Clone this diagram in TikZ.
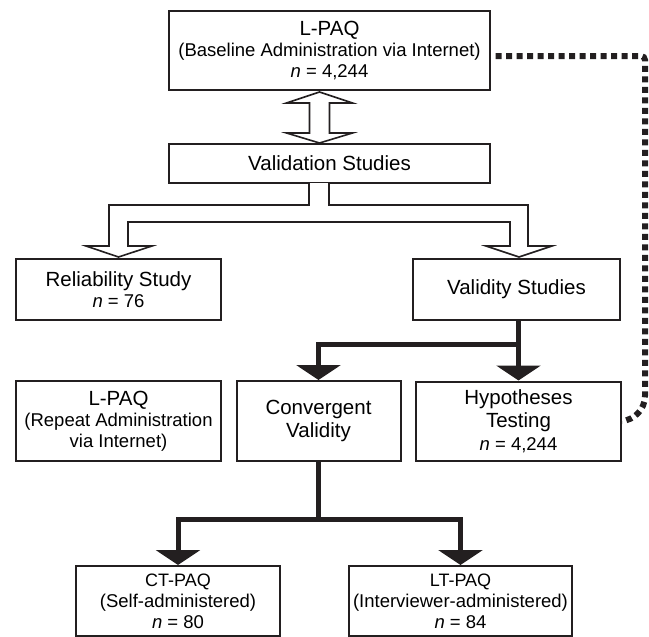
\documentclass[tikz,border=0pt]{standalone}
\usepackage{fontspec}
\setmainfont{Liberation Sans}
\usepackage{tikz}
\usetikzlibrary{arrows.meta,calc}
\definecolor{ink}{HTML}{231F20}
\newcommand{\ttlfont}{\fontsize{20.5}{23}\selectfont}
\newcommand{\subfont}{\fontsize{18.5}{21}\selectfont}
\tikzset{
  box/.style={draw=ink, line width=2pt, fill=white, inner sep=0pt, align=center, font=\subfont},
  hollow/.style={draw=ink, line width=1.6pt, fill=white, line join=miter},
  flow/.style={draw=ink, line width=5pt, line join=miter, -{Triangle[width=44pt,length=15pt]}},
  dots/.style={draw=ink, line width=6pt, dash pattern=on 6pt off 4.5pt, dash phase=6pt},
}

\begin{document}
\begin{tikzpicture}[x=1pt,y=-1pt]
  \useasboundingbox (0,0) rectangle (649,637);

  \node[box, minimum width=321pt, minimum height=79pt] (base) at (329.5,50.5)
    {{\ttlfont L-PAQ}\\(Baseline Administration via Internet)\\\textit{n} = 4,244};
  \node[box, font=\ttlfont, minimum width=321pt, minimum height=39pt] (valid) at (329.5,163.5)
    {Validation Studies};

  \node[box, minimum width=205pt, minimum height=61pt] (rel) at (118.5,289.5)
    {{\ttlfont Reliability Study}\\\textit{n} = 76};
  \node[box, font=\ttlfont, minimum width=207pt, minimum height=61pt] (vals) at (516.5,289.5)
    {Validity Studies};

  \node[box, minimum width=205pt, minimum height=80pt] (rep) at (118.5,421)
    {{\ttlfont L-PAQ}\\(Repeat Administration\\via Internet)};
  \node[box, font=\ttlfont, minimum width=164pt, minimum height=80pt] (conv) at (318.5,421)
    {Convergent\\Validity};
  \node[box, font=\ttlfont, minimum width=205pt, minimum height=79pt] (hyp) at (518.5,421)
    {Hypotheses\\Testing\\{\subfont\textit{n} = 4,244}};

  \node[box, minimum width=204pt, minimum height=70pt] (ct) at (178,601)
    {{\fontsize{18}{21}\selectfont CT-PAQ}\\(Self-administered)\\\textit{n} = 80};
  \node[box, minimum width=223pt, minimum height=70pt] (lt) at (460.5,601)
    {{\fontsize{18}{21}\selectfont LT-PAQ}\\(Interviewer-administered)\\\textit{n} = 84};

  % open arrows
  \draw[hollow] (319.5,92) -- (352.5,103) -- (329.5,103) -- (329.5,133) -- (352.5,133)
    -- (319.5,143) -- (286.5,133) -- (309.5,133) -- (309.5,103) -- (286.5,103) -- cycle;
  \draw[hollow] (309,183) -- (309,205) -- (109,205) -- (109,246) -- (86,246) -- (118.5,257)
    -- (152,246) -- (128,246) -- (128,222) -- (510,222) -- (510,246) -- (486,246)
    -- (519,257) -- (552,246) -- (528,246) -- (528,205) -- (329,205) -- (329,183);

  % solid arrows
  \coordinate (vbar) at (518.5,344);
  \draw[flow] (vals.south -| vbar) -- (vbar) -| (conv.north);
  \draw[flow] (vbar) -- (hyp.north);
  \coordinate (cbar) at (318.5,519);
  \draw[flow] (conv.south) -- (cbar) -| (ct.north);
  \draw[flow] (cbar) -| (lt.north);

  % dotted link
  \coordinate (dtop) at (645,56);
  \coordinate (dbot) at (645,420);
  \draw[dots] ([yshift=-5.5pt]base.east) [rounded corners=4pt] -- (dtop)
    [rounded corners=24pt] -- (dbot) -- (hyp.east);
\end{tikzpicture}
\end{document}
